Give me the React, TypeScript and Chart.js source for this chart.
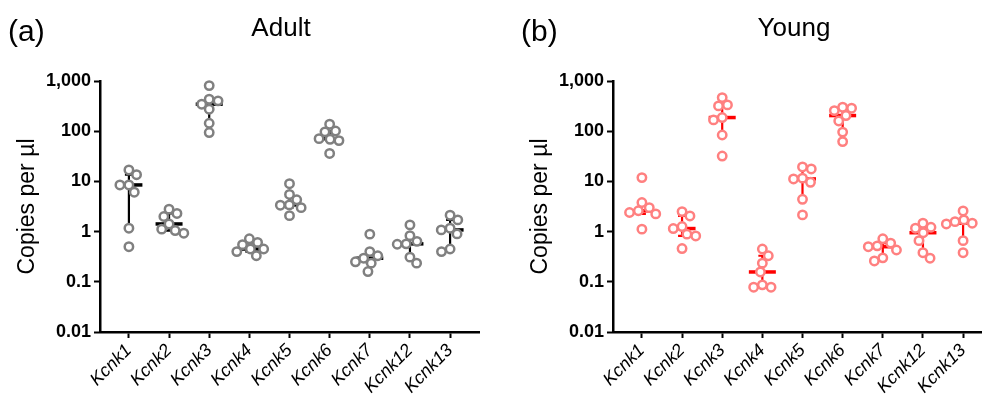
import React, { useEffect, useRef } from "react";
import { Chart, registerables } from "chart.js";

Chart.register(...registerables);
Chart.defaults.font.family = '"Liberation Sans", Arial, Helvetica, sans-serif';

const categories = ["Kcnk1", "Kcnk2", "Kcnk3", "Kcnk4", "Kcnk5", "Kcnk6", "Kcnk7", "Kcnk12", "Kcnk13"];
const yTickValues = [0.01, 0.1, 1, 10, 100, 1000];
const yTickLabels = ["0.01", "0.1", "1", "10", "100", "1,000"];

// Adult (copies per µl)
const adultKcnk1 = [16.9, 13.6, 8.5, 8.5, 6.1, 1.17, 0.5];
const adultKcnk2 = [2.8, 2.3, 2.0, 1.42, 1.12, 1.05, 0.93];
const adultKcnk3 = [809, 434, 402, 345, 274, 144, 94];
const adultKcnk4 = [0.72, 0.61, 0.55, 0.45, 0.45, 0.4, 0.33];
const adultKcnk5 = [9.0, 5.5, 4.3, 3.4, 3.36, 3.0, 2.08];
const adultKcnk6 = [138, 101, 97, 71, 69, 65, 36];
const adultKcnk7 = [0.89, 0.4, 0.33, 0.295, 0.25, 0.235, 0.16];
const adultKcnk12 = [1.36, 0.83, 0.64, 0.57, 0.56, 0.31, 0.235];
const adultKcnk13 = [2.12, 1.71, 1.17, 1.08, 0.9, 0.45, 0.4];

// Young (copies per µl)
const youngKcnk1 = [11.9, 3.8, 3.0, 2.6, 2.4, 2.25, 1.12];
const youngKcnk2 = [2.5, 2.05, 1.26, 1.15, 0.89, 0.82, 0.46];
const youngKcnk3 = [467, 334, 319, 187, 168, 84, 32];
const youngKcnk4 = [0.45, 0.33, 0.235, 0.157, 0.087, 0.078, 0.078];
const youngKcnk5 = [19.4, 17.7, 11.6, 11.2, 9.6, 4.4, 2.15];
const youngKcnk6 = [301, 287, 257, 205, 160, 96, 62];
const youngKcnk7 = [0.72, 0.59, 0.52, 0.5, 0.43, 0.3, 0.26];
const youngKcnk12 = [1.47, 1.22, 1.17, 0.95, 0.66, 0.38, 0.295];
const youngKcnk13 = [2.58, 1.71, 1.58, 1.47, 1.42, 0.66, 0.38];

const adultGroups = [adultKcnk1, adultKcnk2, adultKcnk3, adultKcnk4, adultKcnk5, adultKcnk6, adultKcnk7, adultKcnk12, adultKcnk13];
const youngGroups = [youngKcnk1, youngKcnk2, youngKcnk3, youngKcnk4, youngKcnk5, youngKcnk6, youngKcnk7, youngKcnk12, youngKcnk13];

function quantile(sorted: number[], p: number): number {
  const n = sorted.length;
  const r = p * (n + 1);
  const lo = Math.min(Math.max(Math.floor(r), 1), n);
  const hi = Math.min(Math.max(Math.ceil(r), 1), n);
  const frac = r - Math.floor(r);
  return sorted[lo - 1] + frac * (sorted[hi - 1] - sorted[lo - 1]);
}

function placeSwarm(chart: any, groups: number[][]) {
  const xs = chart.scales.x;
  const ys = chart.scales.y;
  const unit = xs.getPixelForValue(1) - xs.getPixelForValue(0);
  const diam = 9;
  const pts: { x: number; y: number }[] = [];
  groups.forEach((vals, i) => {
    const order = vals.map((_, k) => k).sort((a, b) => vals[b] - vals[a]);
    const placed: { x: number; y: number }[] = [];
    const offs = new Array(vals.length).fill(0);
    let sideSum = 0;
    for (const k of order) {
      const y = ys.getPixelForValue(vals[k]);
      const cands = [0];
      for (const p of placed) {
        const dy = Math.abs(p.y - y);
        if (dy < diam) {
          const dx = Math.sqrt(diam * diam - dy * dy);
          cands.push(p.x - dx, p.x + dx);
        }
      }
      // prefer the side that balances the cluster
      const pref = sideSum > 0 ? -1 : 1;
      cands.sort((a, b) => Math.abs(a) - Math.abs(b) || (pref > 0 ? b - a : a - b));
      let best = 0;
      for (const c of cands) {
        if (placed.every((p) => (p.x - c) ** 2 + (p.y - y) ** 2 >= diam * diam - 0.01)) {
          best = c;
          break;
        }
      }
      placed.push({ x: best, y });
      sideSum += best;
      offs[k] = best;
    }
    vals.forEach((v, k) => pts.push({ x: i + offs[k] / unit, y: v }));
  });
  return pts;
}

type PanelProps = {
  left: number;
  letter: string;
  title: string;
  groups: number[][];
  pointColor: string;
  lineColor: string;
};

function Panel({ left, letter, title, groups, pointColor, lineColor }: PanelProps) {
  const ref = useRef<HTMLCanvasElement>(null);
  useEffect(() => {
    const canvas = ref.current!;
    const statsPlugin = {
      id: "medianIqr",
      beforeDatasetsDraw(chart: any) {
        const { ctx, scales } = chart;
        const x = scales.x;
        const y = scales.y;
        ctx.save();
        ctx.strokeStyle = lineColor;
        groups.forEach((vals, i) => {
          const s = [...vals].sort((a, b) => a - b);
          const med = quantile(s, 0.5);
          const q1 = quantile(s, 0.25);
          const q3 = quantile(s, 0.75);
          const px = x.getPixelForValue(i);
          const yMed = y.getPixelForValue(med);
          const y1 = y.getPixelForValue(q1);
          const y3 = y.getPixelForValue(q3);
          ctx.lineWidth = 2.2;
          ctx.beginPath();
          ctx.moveTo(px, y1);
          ctx.lineTo(px, y3);
          ctx.moveTo(px - 4, y1);
          ctx.lineTo(px + 4, y1);
          ctx.moveTo(px - 4, y3);
          ctx.lineTo(px + 4, y3);
          ctx.stroke();
          ctx.lineWidth = 3.5;
          ctx.beginPath();
          ctx.moveTo(px - 13.5, yMed);
          ctx.lineTo(px + 13.5, yMed);
          ctx.stroke();
        });
        ctx.restore();
      },
    };
    const letterPlugin = {
      id: "panelLetter",
      afterDraw(chart: any) {
        const ctx = chart.ctx;
        ctx.save();
        ctx.font = '30px "Liberation Sans", Arial, sans-serif';
        ctx.fillStyle = "#000";
        ctx.textBaseline = "middle";
        ctx.textAlign = "left";
        ctx.fillText(letter, 8, 33);
        ctx.restore();
      },
    };
    const axisGrid = {
      display: true,
      drawOnChartArea: false,
      drawTicks: true,
      tickLength: 6,
      tickWidth: 2,
      tickColor: "#000",
    };
    const axisBorder = { display: true, color: "#000", width: 2.5 };
    const chart = new Chart(canvas, {
      type: "scatter",
      data: {
        datasets: [
          {
            data: groups.flatMap((vals, i) => vals.map((v) => ({ x: i, y: v }))),
            pointRadius: 4.2,
            pointHoverRadius: 4.2,
            pointBorderWidth: 2.5,
            pointBackgroundColor: "#fff",
            pointBorderColor: pointColor,
            clip: false,
          } as any,
        ],
      },
      options: {
        animation: false,
        responsive: false,
        devicePixelRatio: 1,
        events: [],
        layout: { padding: 0 },
        plugins: {
          legend: { display: false },
          tooltip: { enabled: false },
          title: {
            display: true,
            text: title,
            color: "#000",
            font: { size: 26, weight: "normal" },
            padding: { top: 13, bottom: 36.8 },
          },
        },
        scales: {
          x: {
            type: "linear",
            position: "bottom",
            min: -0.72,
            max: 8.72,
            afterBuildTicks: (s: any) => {
              s.ticks = categories.map((_, i) => ({ value: i }));
            },
            afterFit: (s: any) => {
              s.height = 73;
            },
            ticks: {
              autoSkip: false,
              minRotation: 45,
              maxRotation: 45,
              color: "#000",
              padding: 2,
              font: { size: 18, style: "italic" },
              callback: (v: any) => categories[Math.round(Number(v))] ?? "",
            },
            grid: axisGrid,
            border: axisBorder,
          },
          y: {
            type: "logarithmic",
            position: "left",
            min: 0.01,
            max: 1000,
            afterBuildTicks: (s: any) => {
              s.ticks = yTickValues.map((v) => ({ value: v }));
            },
            afterFit: (s: any) => {
              s.width = 100;
            },
            ticks: {
              autoSkip: false,
              color: "#000",
              padding: 3,
              font: { size: 18, weight: "bold" },
              callback: (_v: any, idx: number) => yTickLabels[idx] ?? "",
            },
            grid: axisGrid,
            border: axisBorder,
            title: {
              display: true,
              text: "Copies per µl",
              color: "#000",
              font: { size: 23 },
              padding: { top: 14, bottom: 0 },
            },
          },
          yR: {
            type: "linear",
            position: "right",
            display: true,
            grid: { display: false },
            border: { display: false },
            ticks: { display: false },
            afterFit: (s: any) => {
              s.width = 83;
            },
          },
        },
      } as any,
      plugins: [statsPlugin, letterPlugin],
    });
    chart.data.datasets[0].data = placeSwarm(chart, groups) as any;
    chart.update("none");
    return () => chart.destroy();
  }, []);
  return (
    <canvas
      ref={ref}
      width={562}
      height={405}
      style={{ position: "absolute", left, top: 0, width: 562, height: 405 }}
    />
  );
}

export default function App() {
  return (
    <div
      style={{
        position: "absolute",
        left: 0,
        top: 0,
        width: 982,
        height: 405,
        overflow: "hidden",
        background: "#fff",
      }}
    >
      <Panel left={0} letter="(a)" title="Adult" groups={adultGroups} pointColor="#808080" lineColor="#000000" />
      <Panel left={513} letter="(b)" title="Young" groups={youngGroups} pointColor="#ff8080" lineColor="#ff0000" />
    </div>
  );
}
